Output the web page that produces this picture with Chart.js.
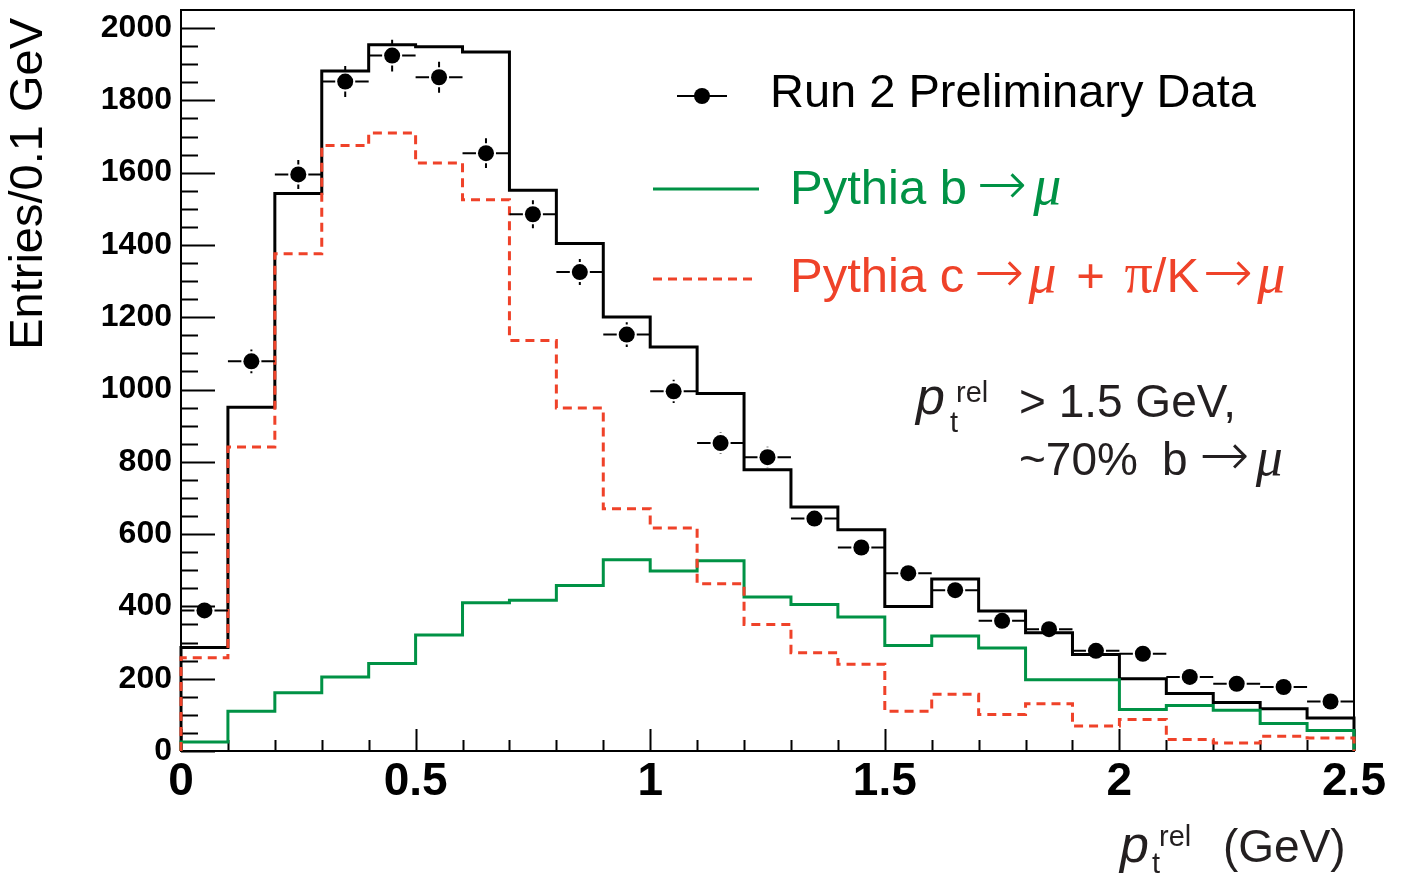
<!DOCTYPE html>
<html lang="en">
<head>
<meta charset="UTF-8">
<title>p_t rel distribution</title>
<script src="https://cdn.jsdelivr.net/npm/chart.js"></script>
<style>
  html, body { margin: 0; padding: 0; background: #fff; }
  #wrap { width: 1404px; height: 874px; position: relative; }
</style>
</head>
<body>
<div id="wrap"><canvas id="ptrel"></canvas></div>
<script>
// bin edges (GeV), 0.1 GeV per bin
const binEdges = [0, 0.1, 0.2, 0.3, 0.4, 0.5, 0.6, 0.7, 0.8, 0.9, 1.0, 1.1, 1.2,
                  1.3, 1.4, 1.5, 1.6, 1.7, 1.8, 1.9, 2.0, 2.1, 2.2, 2.3, 2.4, 2.5];

// entries per bin
const dataCounts = [389, 1078, 1595, 1852, 1924, 1864, 1654, 1485, 1325, 1152, 995, 852, 813,
                    643, 563, 492, 445, 360, 337, 277, 269, 205, 186, 177, 137];
const dataErrors = [20, 33, 40, 43, 44, 43, 41, 39, 36, 34, 32, 29, 29,
                    25, 24, 22, 21, 19, 18, 17, 16, 14, 14, 13, 12];
const totalMC = [286, 951, 1542, 1881, 1954, 1948, 1934, 1551, 1404, 1201, 1118, 989, 778,
                 675, 612, 400, 476, 387, 327, 267, 200, 159, 134, 117, 91];
const bToMu = [25, 110, 161, 205, 242, 321, 410, 417, 458, 529, 498, 526, 426,
               405, 371, 292, 318, 285, 197, 197, 115, 126, 113, 76, 57];
const cToMu = [258, 841, 1376, 1675, 1710, 1627, 1525, 1136, 949, 670, 617, 463, 350,
               272, 240, 110, 157, 101, 131, 69, 87, 32, 22, 41, 36];

const xTicks = [0, 0.5, 1, 1.5, 2, 2.5];
const yTicks = [0, 200, 400, 600, 800, 1000, 1200, 1400, 1600, 1800, 2000];

const GREEN = '#009245';
const RED = '#ef4229';
const SANS = '"Liberation Sans", Arial, Helvetica, sans-serif';
const SERIF = '"Liberation Serif", "Times New Roman", serif';
const ARROW = '200 60px "DejaVu Sans", sans-serif';
const MU = 'italic 56px ' + SERIF;
const DASH = [9, 6];

const binCentres = dataCounts.map((_, i) => (binEdges[i] + binEdges[i + 1]) / 2);

// histogram outline: up from zero at the first edge, down to zero at the last
function histPoints(vals) {
  const pts = [{ x: binEdges[0], y: 0 }];
  vals.forEach((v, i) => pts.push({ x: binEdges[i], y: v }));
  pts.push({ x: binEdges[vals.length], y: 0 });
  return pts;
}

function histDataset(label, vals, color, order, dash) {
  return {
    type: 'line',
    label: label,
    data: histPoints(vals),
    borderColor: color,
    borderWidth: 3,
    borderDash: dash || [],
    borderCapStyle: 'butt',
    borderJoinStyle: 'miter',
    stepped: true,
    fill: false,
    pointRadius: 0,
    clip: false,
    order: order
  };
}

// text made of pieces with different fonts / spacing
function drawRich(ctx, x, y, parts, color) {
  ctx.fillStyle = color;
  ctx.textBaseline = 'alphabetic';
  ctx.textAlign = 'left';
  for (const p of parts) {
    x += p.pre || 0;
    ctx.font = p.font;
    ctx.fillText(p.t, x, y + (p.dy || 0));
    x += ctx.measureText(p.t).width + (p.post || 0);
  }
}

// frame and inward ticks
const framePlugin = {
  id: 'frame',
  beforeDatasetsDraw(chart) {
    const { ctx, chartArea: a, scales: { x, y } } = chart;
    ctx.save();
    ctx.strokeStyle = '#000';
    ctx.lineWidth = 2;
    ctx.strokeRect(a.left, a.top, a.right - a.left, a.bottom - a.top);
    ctx.beginPath();
    for (let v = 0; v <= 2000; v += 50) {
      const py = Math.round(y.getPixelForValue(v)) + 0.5;
      const len = v % 200 === 0 ? 34 : 17;
      ctx.moveTo(a.left, py);
      ctx.lineTo(a.left + len, py);
    }
    for (let i = 0; i < binEdges.length; i++) {
      const px = Math.round(x.getPixelForValue(binEdges[i])) + 0.5;
      const len = i % 5 === 0 ? 22 : 11;
      ctx.moveTo(px, a.bottom);
      ctx.lineTo(px, a.bottom - len);
    }
    ctx.stroke();
    ctx.restore();
  }
};

// data error bars, kept clear of the marker
const errorBarPlugin = {
  id: 'errorBars',
  afterDatasetsDraw(chart) {
    const { ctx, scales: { x, y } } = chart;
    const r = 8, gap = 2;
    ctx.save();
    ctx.strokeStyle = '#000';
    ctx.lineWidth = 2;
    ctx.beginPath();
    dataCounts.forEach((v, i) => {
      const cx = x.getPixelForValue(binCentres[i]);
      const cy = y.getPixelForValue(v);
      const xl = x.getPixelForValue(binEdges[i]);
      const xr = x.getPixelForValue(binEdges[i + 1]);
      ctx.moveTo(xl, cy); ctx.lineTo(cx - r - gap, cy);
      ctx.moveTo(cx + r + gap, cy); ctx.lineTo(xr, cy);
      const up = y.getPixelForValue(v + dataErrors[i]);
      const dn = y.getPixelForValue(v - dataErrors[i]);
      if (cy - up > r + gap) {
        ctx.moveTo(cx, cy - r - gap); ctx.lineTo(cx, up);
        ctx.moveTo(cx, cy + r + gap); ctx.lineTo(cx, dn);
      }
    });
    ctx.stroke();
    ctx.restore();
  }
};

// axis titles, legend and the selection note
const textPlugin = {
  id: 'texts',
  afterDraw(chart) {
    const ctx = chart.ctx;
    ctx.save();

    // y title
    ctx.save();
    ctx.translate(42, 18);
    ctx.rotate(-Math.PI / 2);
    ctx.font = '47px ' + SANS;
    ctx.fillStyle = '#000';
    ctx.textAlign = 'right';
    ctx.textBaseline = 'alphabetic';
    ctx.fillText('Entries/0.1 GeV', 0, 0);
    ctx.restore();

    // x title
    const xt = '#231f20';
    drawRich(ctx, 1120, 862, [{ t: 'p', font: 'italic 52px ' + SANS }], xt);
    drawRich(ctx, 1152, 873, [{ t: 't', font: '29px ' + SANS }], xt);
    drawRich(ctx, 1159, 846, [{ t: 'rel', font: '29px ' + SANS }], xt);
    drawRich(ctx, 1223, 862, [{ t: '(GeV)', font: '46px ' + SANS }], xt);

    // legend
    ctx.strokeStyle = '#000';
    ctx.lineWidth = 2;
    ctx.beginPath();
    ctx.moveTo(677, 96); ctx.lineTo(727, 96);
    ctx.stroke();
    ctx.fillStyle = '#000';
    ctx.beginPath();
    ctx.arc(702, 96, 8, 0, Math.PI * 2);
    ctx.fill();
    drawRich(ctx, 770, 107, [{ t: 'Run 2 Preliminary Data', font: '47px ' + SANS }], '#000');

    ctx.lineWidth = 3;
    ctx.strokeStyle = GREEN;
    ctx.beginPath();
    ctx.moveTo(653, 189); ctx.lineTo(759, 189);
    ctx.stroke();
    drawRich(ctx, 790, 204, [
      { t: 'Pythia b', font: '49px ' + SANS },
      { t: '\u2192', font: ARROW, pre: 10, post: 6 },
      { t: '\u03bc', font: MU }
    ], GREEN);

    ctx.strokeStyle = RED;
    ctx.setLineDash(DASH);
    ctx.beginPath();
    ctx.moveTo(653, 279); ctx.lineTo(757, 279);
    ctx.stroke();
    ctx.setLineDash([]);
    drawRich(ctx, 790, 292, [
      { t: 'Pythia c', font: '49px ' + SANS },
      { t: '\u2192', font: ARROW, pre: 10, post: 4 },
      { t: '\u03bc', font: MU },
      { t: ' + ', font: '49px ' + SANS, pre: 6, post: 6 },
      { t: '\u03c0', font: '56px ' + SERIF },
      { t: '/K', font: '49px ' + SANS },
      { t: '\u2192', font: ARROW, pre: 4, post: 4 },
      { t: '\u03bc', font: MU }
    ], RED);

    // selection note
    const nt = '#231f20';
    drawRich(ctx, 916, 414, [{ t: 'p', font: 'italic 52px ' + SANS }], nt);
    drawRich(ctx, 950, 432, [{ t: 't', font: '29px ' + SANS }], nt);
    drawRich(ctx, 956, 402, [{ t: 'rel', font: '29px ' + SANS }], nt);
    drawRich(ctx, 1019, 417, [{ t: '> 1.5 GeV,', font: '46px ' + SANS }], nt);
    drawRich(ctx, 1019, 475, [
      { t: '~70%', font: '46px ' + SANS },
      { t: 'b', font: '46px ' + SANS, pre: 24 },
      { t: '\u2192', font: ARROW, pre: 12, post: 6 },
      { t: '\u03bc', font: 'italic 54px ' + SERIF }
    ], nt);

    ctx.restore();
  }
};

new Chart(document.getElementById('ptrel'), {
  data: {
    datasets: [
      {
        type: 'scatter',
        label: 'Run 2 Preliminary Data',
        data: binCentres.map((x, i) => ({ x: x, y: dataCounts[i] })),
        pointRadius: 8,
        pointBackgroundColor: '#000',
        pointBorderWidth: 0,
        showLine: false,
        clip: false,
        order: 0
      },
      histDataset('Pythia c\u2192\u03bc + \u03c0/K\u2192\u03bc', cToMu, RED, 1, DASH),
      histDataset('Pythia b\u2192\u03bc', bToMu, GREEN, 2),
      histDataset('Total', totalMC, '#000', 3)
    ]
  },
  options: {
    responsive: true,
    maintainAspectRatio: false,
    animation: false,
    layout: { padding: { top: 10, right: 50, left: 0, bottom: 0 } },
    plugins: {
      legend: { display: false },
      tooltip: { enabled: false }
    },
    scales: {
      x: {
        type: 'linear',
        min: 0,
        max: 2.5,
        grid: { display: false, drawTicks: false },
        border: { display: false },
        afterBuildTicks: (s) => { s.ticks = xTicks.map(v => ({ value: v })); },
        afterFit: (s) => { s.height = 123; s.paddingLeft = 0; s.paddingRight = 0; },
        ticks: {
          padding: 4,
          maxRotation: 0,
          color: '#000',
          font: { family: SANS, size: 46, weight: 'bold' },
          callback: (v) => String(+v.toFixed(2))
        }
      },
      y: {
        type: 'linear',
        min: 0,
        max: 2050,
        grid: { display: false, drawTicks: false },
        border: { display: false },
        afterBuildTicks: (s) => { s.ticks = yTicks.map(v => ({ value: v })); },
        afterFit: (s) => { s.width = 181; s.paddingTop = 0; s.paddingBottom = 0; },
        ticks: {
          padding: 9,
          color: '#000',
          font: { family: SANS, size: 32, weight: 'bold' },
          callback: (v) => String(v)
        }
      }
    }
  },
  plugins: [framePlugin, errorBarPlugin, textPlugin]
});
</script>
</body>
</html>
